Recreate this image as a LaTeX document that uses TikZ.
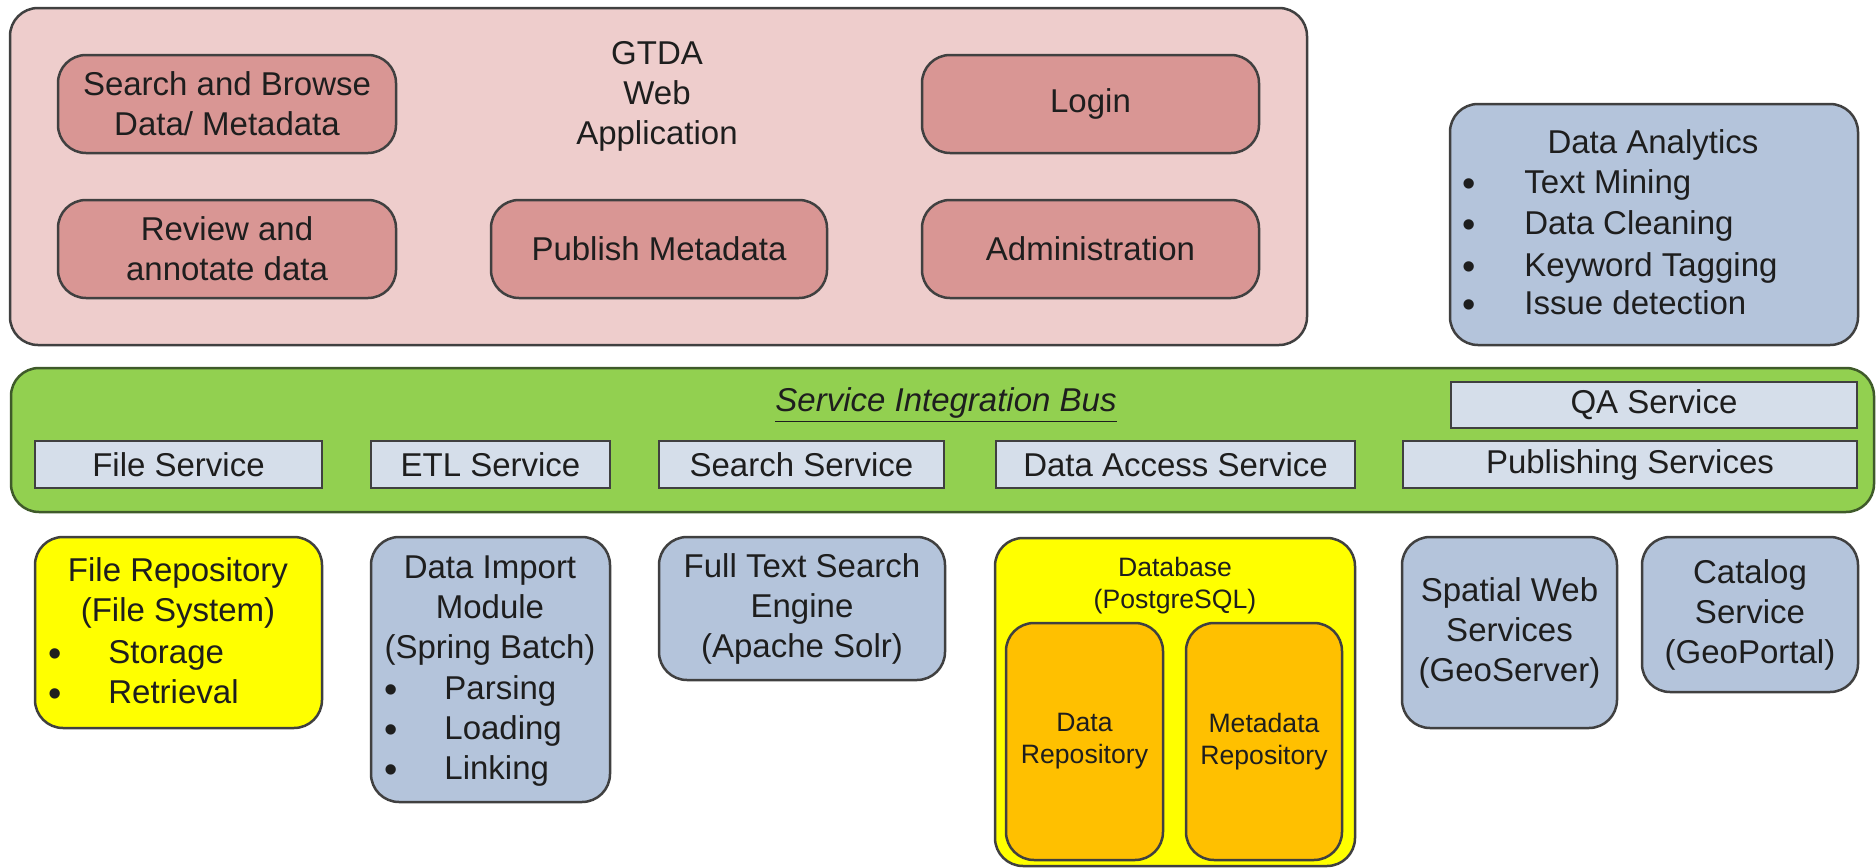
\documentclass[tikz,border=0pt]{standalone}
\usepackage{fontspec}
\setmainfont{Liberation Sans}

\definecolor{ink}{HTML}{1E1E1E}
\definecolor{edge}{HTML}{404040}
\definecolor{appfill}{HTML}{EECDCC}
\definecolor{rose}{HTML}{D99694}
\definecolor{slate}{HTML}{B4C4DB}
\definecolor{svcfill}{HTML}{D5DEEA}
\definecolor{busgreen}{HTML}{92D050}
\definecolor{busedge}{HTML}{3F5A2A}
\definecolor{yel}{HTML}{FFFF00}
\definecolor{amber}{HTML}{FFC000}

% box given by its corner pixels: style, name, x1, y1, x2, y2, text
\newcommand\pxbox[7]{%
  \node[#1, minimum width={(#5-#3)*0.5pt}, minimum height={(#6-#4)*0.5pt}]
    (#2) at ({(#3+#5)/2},{(#4+#6)/2}) {#7};}

\begin{document}
\begin{tikzpicture}[x=0.5pt,y=-0.5pt,
  txt/.style={font=\fontsize{16.5}{20}\selectfont, text=ink, inner sep=0pt},
  small/.style={font=\fontsize{13.3}{16}\selectfont, text=ink, inner sep=0pt},
  base/.style={draw=edge, line width=1.25pt, inner sep=0pt, align=center, txt},
  appbox/.style={base, fill=appfill, rounded corners=14pt},
  modbox/.style={base, fill=rose, rounded corners=14pt},
  slatebox/.style={base, fill=slate, rounded corners=14pt},
  yelbox/.style={base, fill=yel, rounded corners=14pt},
  repobox/.style={base, fill=amber, rounded corners=14pt, small},
  busbox/.style={base, draw=busedge, fill=busgreen, rounded corners=14pt},
  svcbox/.style={base, line width=1.4pt, fill=svcfill},
  item/.style={txt, anchor=base west},
  dot/.style={txt, anchor=base, yshift=-1.5pt, font=\fontsize{19}{20}\selectfont},
]
\useasboundingbox (0,0) rectangle (1876,868);

% web application layer
\pxbox{appbox}{app}{10}{8}{1307}{345}{}
\node[txt, align=center] (apptitle) at (657,96) {GTDA\\Web\\Application};
\pxbox{modbox}{browse}{58}{55}{396}{153}{Search and Browse\\Data/ Metadata}
\pxbox{modbox}{login}{922}{55}{1259}{153}{Login}
\pxbox{modbox}{review}{58}{200}{396}{298}{Review and\\annotate data}
\pxbox{modbox}{publish}{491}{200}{827}{298}{Publish Metadata}
\pxbox{modbox}{admin}{922}{200}{1259}{298}{Administration}

% analytics
\pxbox{slatebox}{analytics}{1450}{104}{1858}{345}{}
\node[txt, anchor=base] (analyticstitle) at (1653,153) {Data Analytics};
\node[dot] (ad1) at (1469,193) {•};
\node[item] (ai1) at (1524,193) {Text Mining};
\node[dot] (ad2) at (1469,234) {•};
\node[item] (ai2) at (1524,234) {Data Cleaning};
\node[dot] (ad3) at (1469,276) {•};
\node[item] (ai3) at (1524,276) {Keyword Tagging};
\node[dot] (ad4) at (1469,314) {•};
\node[item] (ai4) at (1524,314) {Issue detection};

% integration bus
\pxbox{busbox}{bus}{11}{368}{1874}{512}{}
\node[txt] (bustitle) at (946,405) {\underline{\itshape Service Integration Bus}};
\pxbox{svcbox}{qa}{1451}{382}{1857}{428}{QA Service}
\pxbox{svcbox}{filesvc}{35}{441}{322}{488}{File Service}
\pxbox{svcbox}{etlsvc}{371}{441}{610}{488}{ETL Service}
\pxbox{svcbox}{searchsvc}{659}{441}{944}{488}{Search Service}
\pxbox{svcbox}{accesssvc}{996}{441}{1355}{488}{Data Access Service}
\pxbox{svcbox}{pubsvc}{1403}{441}{1857}{488}{Publishing Services}

% file repository
\pxbox{yelbox}{filerepo}{35}{537}{322}{728}{}
\node[txt, anchor=base] (fr1) at (178,581) {File Repository};
\node[txt, anchor=base] (fr2) at (178,621) {(File System)};
\node[dot] (fd1) at (55,663) {•};
\node[item] (fi1) at (108,663) {Storage};
\node[dot] (fd2) at (55,703) {•};
\node[item] (fi2) at (108,703) {Retrieval};

% data import
\pxbox{slatebox}{import}{371}{537}{610}{802}{}
\node[txt, anchor=base] (im1) at (490,578) {Data Import};
\node[txt, anchor=base] (im2) at (490,618) {Module};
\node[txt, anchor=base] (im3) at (490,658) {(Spring Batch)};
\node[dot] (id1) at (391,699) {•};
\node[item] (ii1) at (444,699) {Parsing};
\node[dot] (id2) at (391,739) {•};
\node[item] (ii2) at (444,739) {Loading};
\node[dot] (id3) at (391,779) {•};
\node[item] (ii3) at (444,779) {Linking};

% search engine
\pxbox{slatebox}{solr}{659}{537}{945}{680}{Full Text Search\\Engine\\(Apache Solr)}

% database
\pxbox{yelbox}{db}{995}{538}{1355}{866}{}
\node[small, align=center, anchor=north] (dbtitle) at (1175,557) {Database\\(PostgreSQL)};
\pxbox{repobox}{datarepo}{1006}{623}{1163}{860}{Data\\Repository}
\pxbox{repobox}{metarepo}{1186}{623}{1342}{860}{Metadata\\Repository}

% publishing back ends
\pxbox{slatebox}{geoserver}{1402}{537}{1617}{728}{Spatial Web\\Services\\(GeoServer)}
\pxbox{slatebox}{geoportal}{1642}{537}{1858}{692}{Catalog\\Service\\(GeoPortal)}
\end{tikzpicture}
\end{document}
